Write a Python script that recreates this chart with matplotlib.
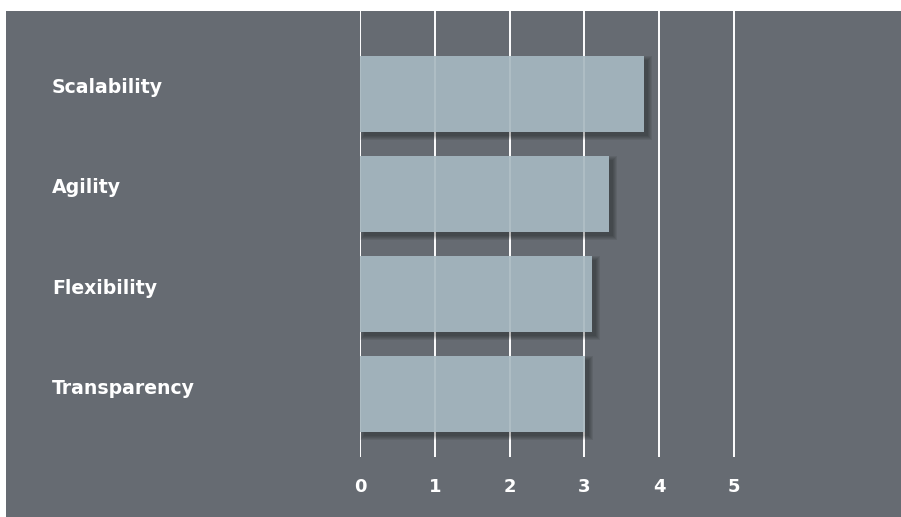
import matplotlib.pyplot as plt
import matplotlib.transforms as mtransforms
from matplotlib.patches import Rectangle

# chart data
categories = ['Scalability', 'Agility', 'Flexibility', 'Transparency']
scores = [3.80, 3.33, 3.10, 3.01]
ticks = [0, 1, 2, 3, 4, 5]

bg = '#666b72'
bar_color = '#a0b1ba'

plt.rcParams['font.family'] = ['DejaVu Sans']

fig = plt.figure(figsize=(9.01, 5.17), dpi=100)
fig.patch.set_facecolor('white')
# gray panel (small white margin left and top)
fig.patches.append(Rectangle((6 / 901, 0), 1, 1 - 11 / 517, transform=fig.transFigure,
                             facecolor=bg, edgecolor='none', zorder=-10))

px_per_unit = 74.8
left = 360 / 901
right = (360 + 7 * px_per_unit) / 901
ax = fig.add_axes([left, 60 / 517, right - left, 446 / 517])
ax.set_facecolor('none')
ax.set_xlim(0, 7)
ax.set_ylim(3.63, -0.83)

for t in ticks:
    ax.axvline(t, color='white', lw=1.4, zorder=1)

ys = list(range(len(categories)))
h = 0.76
# soft drop shadow, offset right and down
dx, dy = 4 / px_per_unit, 4 / 100
for s in range(0, 5):
    ex, ey = s / px_per_unit, s / 100
    ax.barh([y + dy for y in ys], [v + 2 * ex for v in scores], height=h + 2 * ey,
            left=dx - ex, color='black', alpha=0.07, lw=0, zorder=2)
ax.barh(ys, scores, height=h, color=bar_color, lw=0, zorder=3)
for t in ticks:
    ax.axvline(t, color='white', lw=1.4, alpha=0.16, zorder=4)

ax.set_xticks(ticks)
ax.set_xticklabels([str(t) for t in ticks], fontsize=13, fontweight='bold', color='white')
ax.set_yticks(ys)
ax.set_yticklabels(categories, fontsize=13.6, fontweight='bold', color='white', ha='left')
ax.tick_params(axis='x', length=0, pad=15)
ax.tick_params(axis='y', length=0, pad=308 * 0.72)
# category labels sit a little above the bar centre
shift = mtransforms.ScaledTranslation(0, 8 / 100, fig.dpi_scale_trans)
for lab in ax.get_yticklabels():
    lab.set_transform(lab.get_transform() + shift)
for sp in ax.spines.values():
    sp.set_visible(False)

fig.savefig('out.png', dpi=100)
